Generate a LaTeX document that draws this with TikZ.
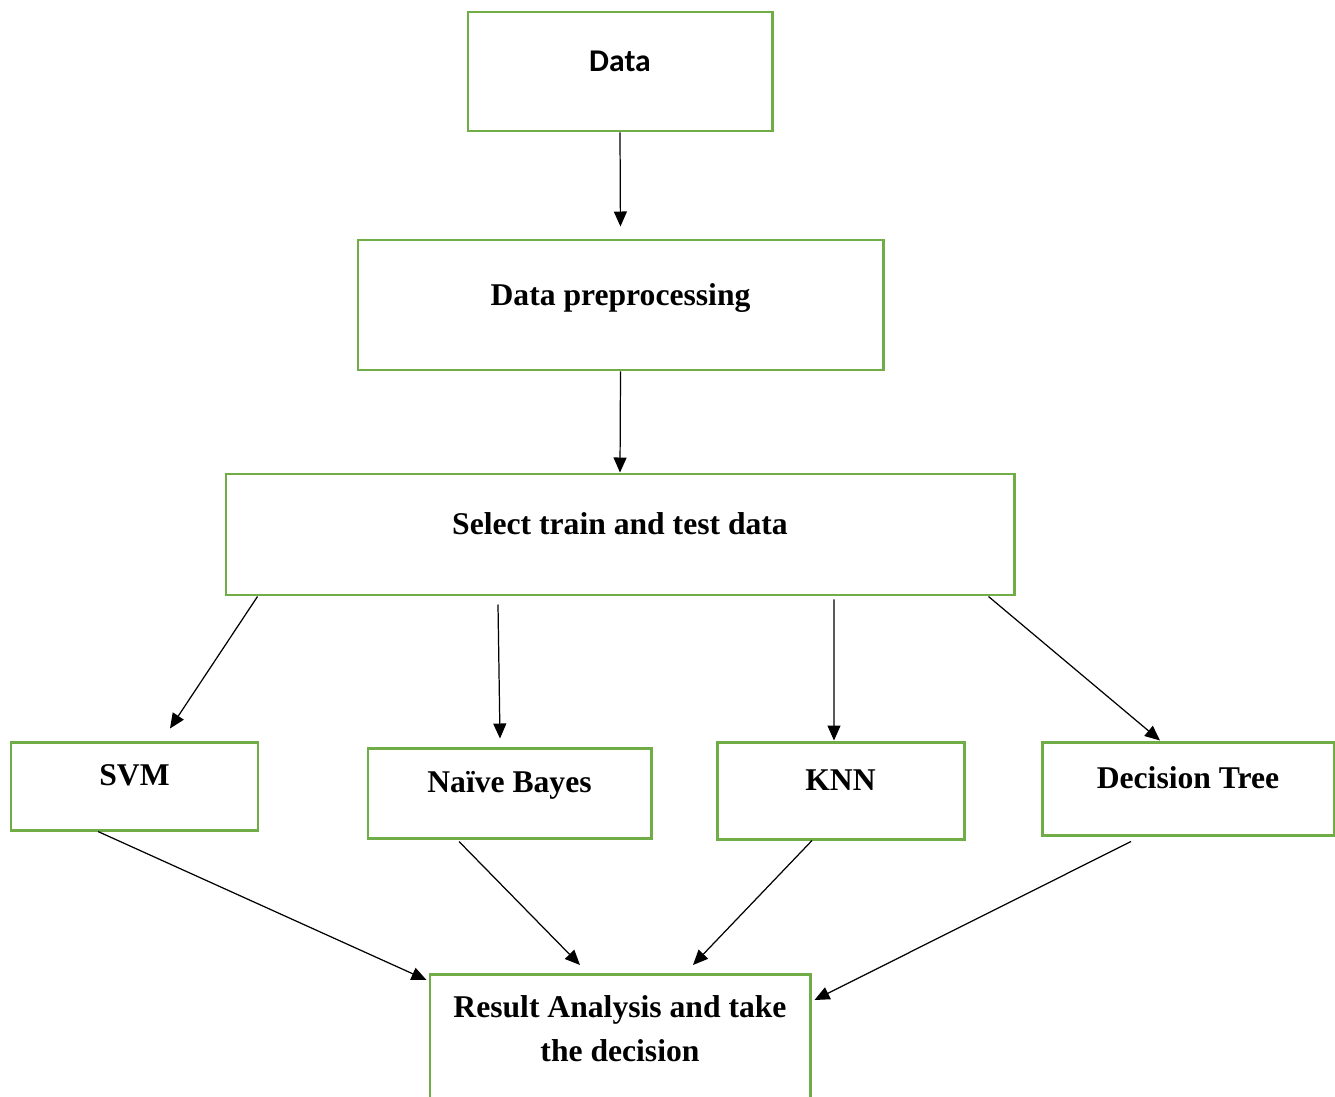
\documentclass[tikz,border=0pt]{standalone}
\usepackage{fontspec}
\setmainfont{Liberation Serif}
\newfontfamily\calibri{Carlito}
\usetikzlibrary{arrows.meta, positioning}

\definecolor{boxgreen}{RGB}{112,173,71}

\begin{document}
\begin{tikzpicture}[
    every node/.style={font=\fontsize{18}{25}\selectfont\bfseries},
    box/.style={rectangle, draw=boxgreen, line width=1.7pt, align=center, text depth=0.43cm},
    line/.style={-{Triangle[length=0.3cm, width=0.26cm]}, line width=0.7pt}
]
\useasboundingbox (0,0) rectangle (26.7,-21.94);

% Top of the flow
\node[box, minimum width=6.08cm, minimum height=2.38cm] (data) at (12.4,-1.43) {\calibri Data};
\node[box, minimum width=10.5cm, minimum height=2.6cm] (prep) at (12.41,-6.1) {Data preprocessing};
\node[box, minimum width=15.76cm, minimum height=2.42cm] (select) at (12.4,-10.69) {Select train and test data};

% Classifiers
\node[box, minimum width=4.94cm, minimum height=1.76cm] (svm) at (2.69,-15.72) {SVM};
\node[box, minimum width=5.66cm, minimum height=1.8cm] (nb) at (10.19,-15.86) {Naïve Bayes};
\node[box, minimum width=4.94cm, minimum height=1.94cm] (knn) at (16.81,-15.81) {KNN};
\node[box, minimum width=5.84cm, minimum height=1.86cm] (dt) at (23.76,-15.77) {Decision Tree};

% Result (runs off the bottom)
\node[box, anchor=north, minimum width=7.6cm, minimum height=2.6cm, text depth=0.45cm] (result) at (12.4,-19.46) {Result Analysis and take\\the decision};

\draw[line, shorten >=0.24cm] (data.south) -- (prep.north);
\draw[line] (prep.south) -- (select.north);

\draw[line] ([xshift=0.66cm]select.south west) -- ([xshift=0.71cm, yshift=0.24cm]svm.north);
\draw[line] ([xshift=-2.44cm, yshift=-0.16cm]select.south) -- ([xshift=-0.19cm, yshift=0.16cm]nb.north);
\draw[line] ([xshift=4.28cm, yshift=-0.06cm]select.south) -- ([xshift=-0.13cm]knn.north);
\draw[line] ([xshift=-0.54cm]select.south east) -- ([xshift=-0.56cm]dt.north);

\draw[line] ([xshift=-0.73cm]svm.south) -- ([xshift=-0.04cm, yshift=-0.14cm]result.north west);
\draw[line] ([xshift=-1.01cm, yshift=-0.04cm]nb.south) -- ([xshift=-0.8cm, yshift=0.16cm]result.north);
\draw[line] ([xshift=-0.57cm]knn.south) -- ([xshift=1.46cm, yshift=0.16cm]result.north);
\draw[line] ([xshift=-1.14cm, yshift=-0.1cm]dt.south) -- ([xshift=0.06cm, yshift=-0.54cm]result.north east);

\end{tikzpicture}
\end{document}
